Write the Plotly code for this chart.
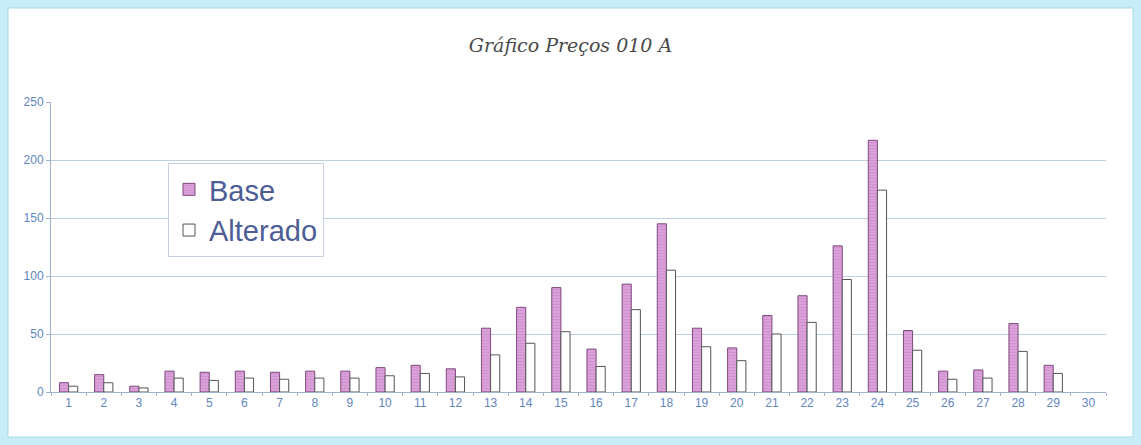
import plotly.graph_objects as go

# data
categories = [str(i) for i in range(1, 31)]
base = [8, 15, 5, 18, 17, 18, 17, 18, 18, 21,
        23, 20, 55, 73, 90, 37, 93, 145, 55, 38,
        66, 83, 126, 217, 53, 18, 19, 59, 23, None]
alterado = [5, 8, 3.5, 12, 10, 12, 11, 12, 12, 14,
            16, 13, 32, 42, 52, 22, 71, 105, 39, 27,
            50, 60, 97, 174, 36, 11, 12, 35, 16, None]
y_ticks = [0, 50, 100, 150, 200, 250]

W, H = 1141, 445
ml, mr, mt, mb = 51, 35, 102, 53
pw, ph = W - ml - mr, H - mt - mb


def px_x(p):
    return (p - ml) / pw


def px_y(p):
    return (H - mb - p) / ph


tick_font = dict(family='Liberation Sans, Arial', size=12, color='#6286c0')

fig = go.Figure(data=[
    go.Bar(name='Base', x=categories, y=base,
           marker=dict(color='#dba0da',
                       line=dict(color='#7d4a7d', width=1),
                       pattern=dict(shape='-', fgcolor='#bb7ebd', size=3, solidity=0.25))),
    go.Bar(name='Alterado', x=categories, y=alterado,
           marker=dict(color='white', line=dict(color='#555555', width=1))),
])

fig.update_layout(
    width=W, height=H,
    margin=dict(l=ml, r=mr, t=mt, b=mb),
    paper_bgcolor='#c8edf6',
    plot_bgcolor='white',
    barmode='group',
    bargap=0.48,
    bargroupgap=0,
    title=dict(text='Gráfico Preços 010 A', x=0.5, xanchor='center', y=1 - 45 / H, yanchor='middle',
               font=dict(family='DejaVu Serif', size=19, color='#4a4a4a', style='italic')),
    legend=dict(x=px_x(168), y=px_y(163), xanchor='left', yanchor='top',
                bgcolor='white', bordercolor='#c6d2e2', borderwidth=1,
                font=dict(family='Liberation Sans, Arial', size=29, color='#4d5d95'),
                tracegroupgap=0),
    shapes=[dict(type='rect', xref='paper', yref='paper', layer='below',
                 x0=px_x(8), x1=px_x(1133), y0=px_y(437), y1=px_y(8),
                 fillcolor='white', line=dict(color='#a8d8e6', width=1))],
)

fig.update_yaxes(range=[0, 250], tickvals=y_ticks, showgrid=True, gridcolor='#bcd0e2',
                 showline=True, linecolor='#9fb4cc', ticks='outside', ticklen=4,
                 tickcolor='#9fb4cc', tickfont=tick_font, zeroline=False)
fig.update_xaxes(type='category', showgrid=False, showline=True, linecolor='#9fb4cc',
                 ticks='outside', ticklen=3, tickcolor='#9fb4cc', tickson='boundaries',
                 tickfont=tick_font)

# drop the default page margin so the figure sits at the window's corner
fig.write_html('out.html', config={'displayModeBar': False},
               post_script="document.body.style.margin='0';")
